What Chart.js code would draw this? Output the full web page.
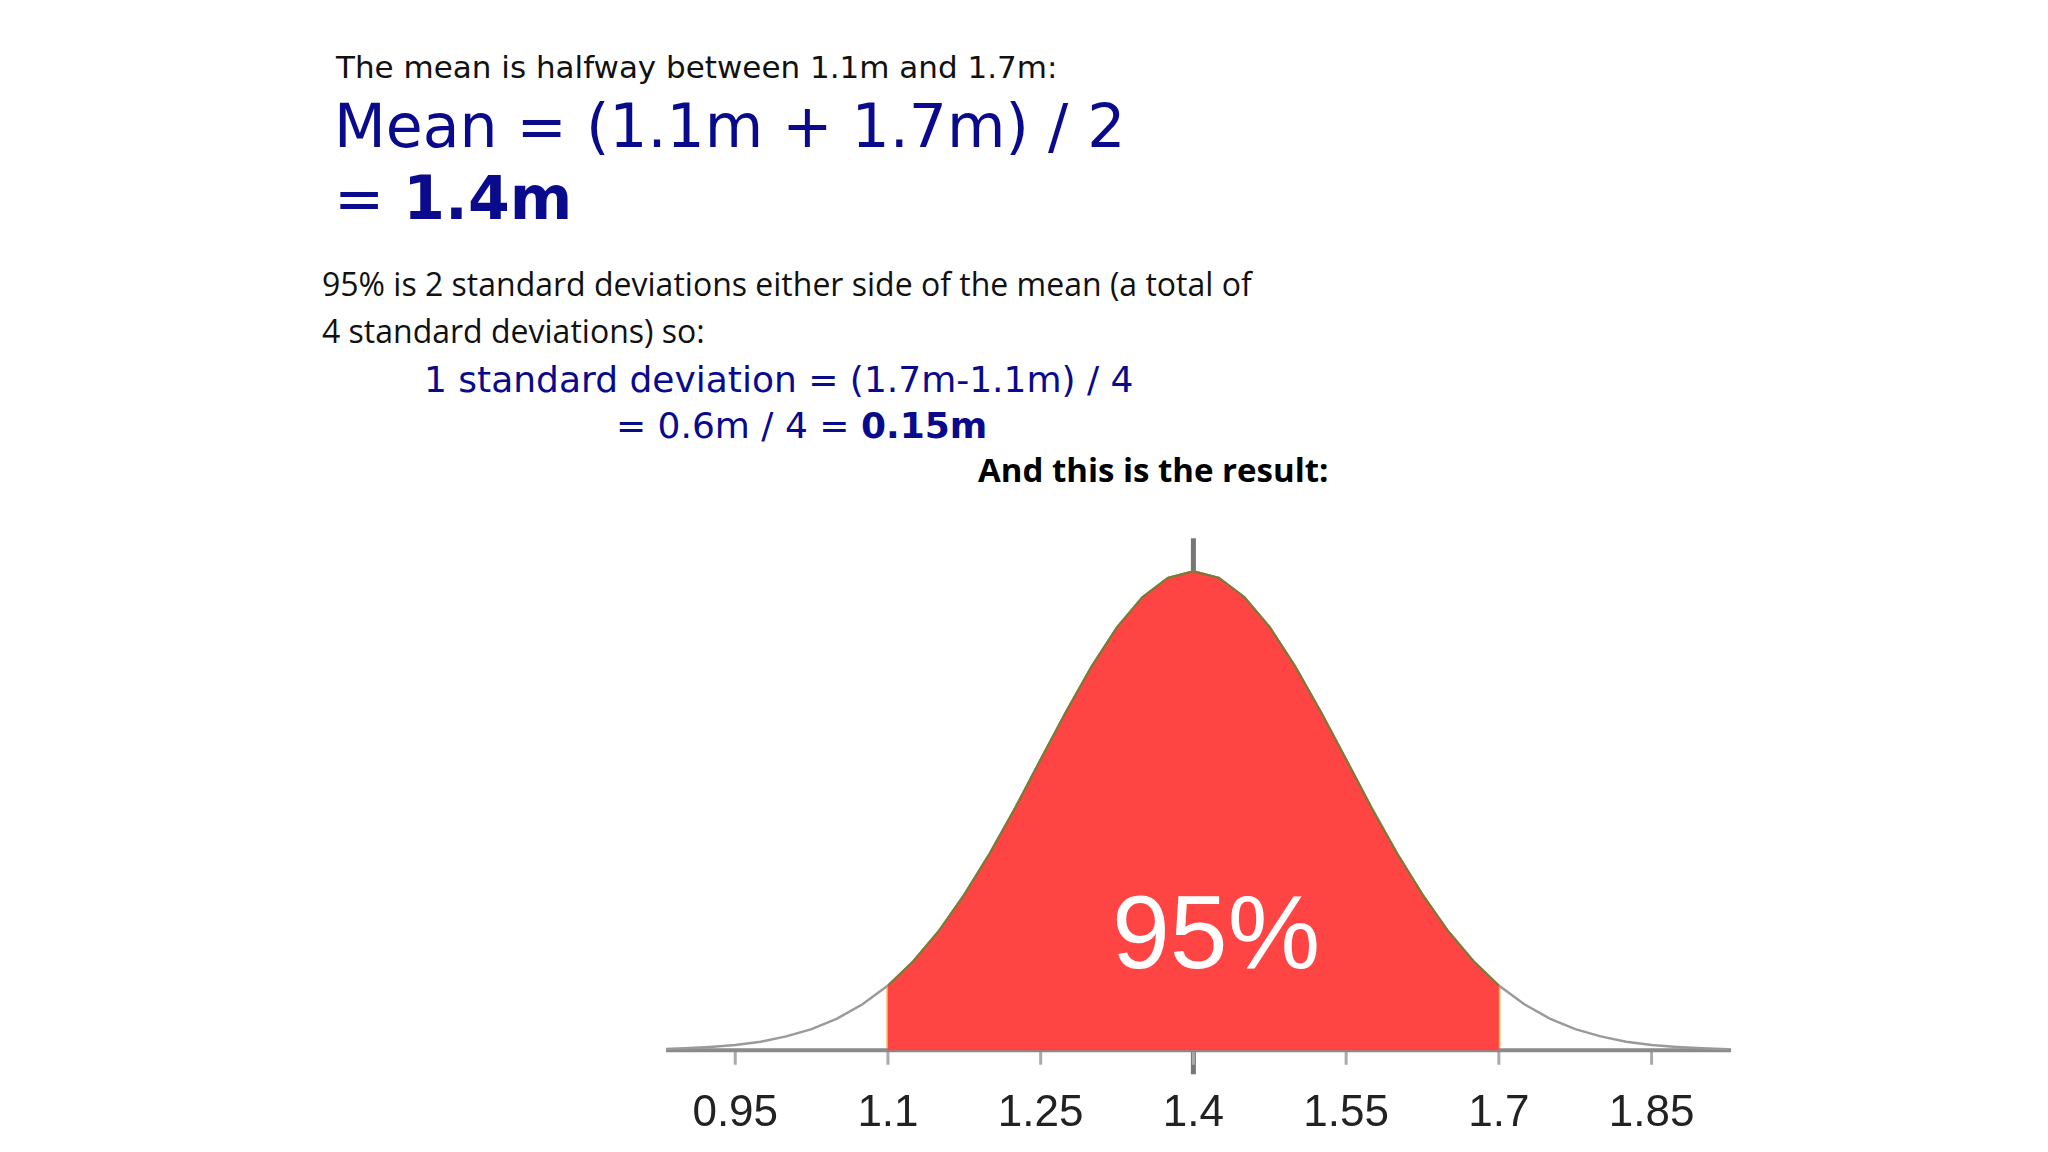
<!DOCTYPE html>
<html><head><meta charset="utf-8">
<script src="https://cdn.jsdelivr.net/npm/chart.js@4"></script>
<style>
body{margin:0;width:2048px;height:1152px;background:#fff;position:relative;overflow:hidden}
.t{position:absolute;white-space:nowrap;line-height:1}
.v{font-family:"DejaVu Sans";color:#0a0a8c}
.c{font-family:"Open Sans","Liberation Sans";color:#111}
#wrap{position:absolute;left:666px;top:533px;width:1065px;height:606px}
</style></head><body>
<div class="t v" style="left:336px;top:52px;font-size:31px;color:#111">The mean is halfway between 1.1m and 1.7m:</div>
<div class="t v" style="left:334px;top:96px;font-size:60px">Mean = (1.1m + 1.7m) / 2</div>
<div class="t v" style="left:334px;top:168px;font-size:60px">= <b>1.4m</b></div>
<div class="t c" style="left:322px;top:268px;font-size:32px">95% is 2 standard deviations either side of the mean (a total of</div>
<div class="t c" style="left:322px;top:315px;font-size:32px">4 standard deviations) so:</div>
<div class="t v" style="left:424px;top:362px;font-size:36px">1 standard deviation = (1.7m-1.1m) / 4</div>
<div class="t v" style="left:616px;top:408px;font-size:36px">= 0.6m / 4 = <b>0.15m</b></div>
<div class="t c" style="left:978px;top:453px;font-size:33px;font-weight:bold;color:#000">And this is the result:</div>
<div id="wrap"><canvas id="c"></canvas></div>
<div class="t" style="left:1112px;top:880px;font-size:104px;font-family:'Liberation Sans Narrow','Liberation Sans';color:#fff">95%</div>
<script>
const curveX=[0.875,0.9,0.925,0.95,0.975,1.0,1.025,1.05,1.075,1.1,1.125,1.15,1.175,1.2,1.225,1.25,1.275,1.3,1.325,1.35,1.375,1.4,1.425,1.45,1.475,1.5,1.525,1.55,1.575,1.6,1.625,1.65,1.675,1.7,1.725,1.75,1.775,1.8,1.825,1.85,1.875,1.9,1.925];
const curveY=[0.002,0.004,0.007,0.011,0.018,0.029,0.044,0.066,0.096,0.135,0.186,0.249,0.325,0.411,0.506,0.607,0.707,0.801,0.883,0.946,0.986,1.0,0.986,0.946,0.883,0.801,0.707,0.607,0.506,0.411,0.325,0.249,0.186,0.135,0.096,0.066,0.044,0.029,0.018,0.011,0.007,0.004,0.002];
const tickLabels=[0.95,1.1,1.25,1.4,1.55,1.7,1.85];
const sdLines=[1.1,1.25,1.4,1.55,1.7];
const sdHeights=[0.135,0.607,1.0,0.607,0.135];
const shadeFrom=1.1, shadeTo=1.7, axisMin=0.882, axisMax=1.928;

const all=curveX.map((x,i)=>({x,y:curveY[i]}));
const shaded=all.filter(p=>p.x>=shadeFrom-1e-9&&p.x<=shadeTo+1e-9);
const tickSeg=[];tickLabels.forEach(t=>{tickSeg.push({x:t,y:0},{x:t,y:-0.03},{x:t,y:null});});
const sdSeg=[];sdLines.forEach((t,i)=>{sdSeg.push({x:t,y:0},{x:t,y:sdHeights[i]},{x:t,y:null});});
const ln=(data,o)=>Object.assign({type:'line',data,pointRadius:0,tension:0,fill:false,spanGaps:false},o);
new Chart(document.getElementById('c'),{
 type:'line',
 data:{datasets:[
  ln(shaded,{fill:'origin',backgroundColor:'#ff4444',borderColor:'#7d7a2e',borderWidth:2}),
  ln(all,{borderColor:'#9a9a9a',borderWidth:2.5}),
  ln(shaded,{borderColor:'#7d7a2e',borderWidth:2}),
  ln([{x:axisMin,y:0},{x:axisMax,y:0}],{borderColor:'#8a8a8a',borderWidth:4}),
  ln(tickSeg,{borderColor:'#aaaaaa',borderWidth:3}),
  ln([{x:1.4,y:-0.05},{x:1.4,y:1.069}],{borderColor:'#777',borderWidth:5}),
  ln(sdSeg,{borderColor:'#f2b035',borderWidth:3}),
 ]},
 options:{animation:false,responsive:true,maintainAspectRatio:false,
  layout:{padding:0},
  plugins:{legend:{display:false},tooltip:{enabled:false}},
  scales:{
   x:{type:'linear',min:axisMin,max:axisMax,grid:{display:false},border:{display:false},
      afterBuildTicks:s=>{s.ticks=tickLabels.map(v=>({value:v}));},
      afterFit:s=>{s.height=60;},
      ticks:{padding:0,autoSkip:false,maxRotation:0,color:'#222',font:{family:"'Liberation Sans Narrow','Liberation Sans'",size:44},callback:v=>String(v)}},
   y:{display:false,min:-0.06,max:1.08}
  }}
});
</script>
</body></html>
